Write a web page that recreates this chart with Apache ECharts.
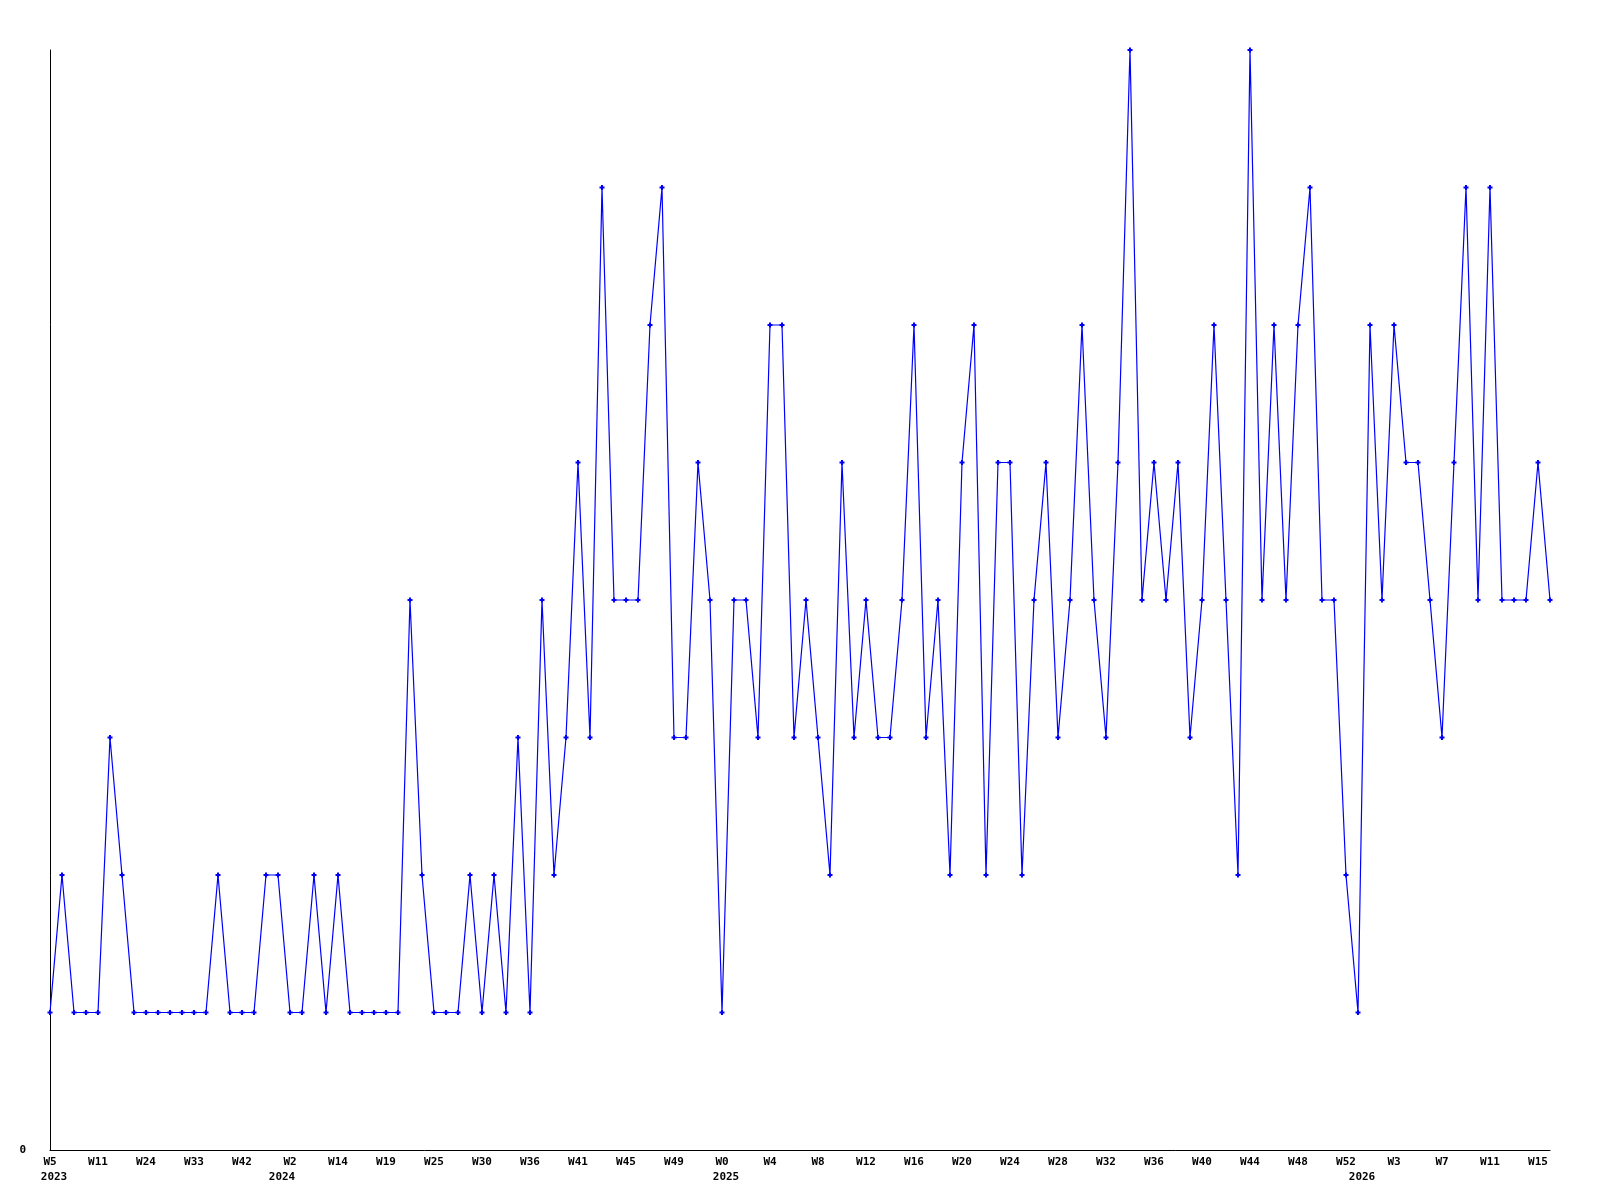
<!DOCTYPE html>
<html><head><meta charset="utf-8">
<script src="https://cdn.jsdelivr.net/npm/echarts@6/dist/echarts.min.js"></script>
<style>html,body{margin:0;padding:0;background:#fff}#c{width:1600px;height:1200px}</style>
</head><body><div id="c"></div>
<script>
// week number of each point
const weeks = [
  5, 6, 8, 9, 11, 14, 17, 21, 24, 26, 28, 31, 33, 35, 37, 40, 42, 45, 49,
  1, 2, 5, 8, 11, 14, 15, 16, 18, 19, 21, 22, 24, 25, 26, 28, 29, 30, 32, 33, 35, 36, 37, 38, 40,
  41, 42, 43, 44, 45, 46, 47, 48, 49, 50, 51, 52,
  0, 1, 2, 3, 4, 5, 6, 7, 8, 9, 10, 11, 12, 13, 14, 15, 16, 17, 18, 19, 20, 21, 22, 23, 24, 25,
  26, 27, 28, 29, 30, 31, 32, 33, 34, 35, 36, 37, 38, 39, 40, 41, 42, 43, 44, 45, 46, 47, 48, 49, 50, 51, 52,
  0, 1, 2, 3, 4, 5, 6, 7, 8, 9, 10, 11, 12, 13, 14, 15, 16
];
// year of each point
const years = [].concat(
  Array(19).fill(2023),
  Array(37).fill(2024),
  Array(53).fill(2025),
  Array(17).fill(2026)
);
// values
const values = [
  1, 2, 1, 1, 1, 3, 2, 1, 1, 1, 1, 1, 1, 1, 2, 1, 1, 1, 2, 2,
  1, 1, 2, 1, 2, 1, 1, 1, 1, 1, 4, 2, 1, 1, 1, 2, 1, 2, 1, 3,
  1, 4, 2, 3, 5, 3, 7, 4, 4, 4, 6, 7, 3, 3, 5, 4, 1, 4, 4, 3,
  6, 6, 3, 4, 3, 2, 5, 3, 4, 3, 3, 4, 6, 3, 4, 2, 5, 6, 2, 5,
  5, 2, 4, 5, 3, 4, 6, 4, 3, 5, 8, 4, 5, 4, 5, 3, 4, 6, 4, 2,
  8, 4, 6, 4, 6, 7, 4, 4, 2, 1, 6, 4, 6, 5, 5, 4, 3, 5, 7, 4,
  7, 4, 4, 4, 5, 4
];

const categories = weeks.map((w, i) => years[i] + '-W' + w);
const firstOfYear = new Set();
years.forEach((y, i) => { if (i === 0 || years[i - 1] !== y) firstOfYear.add(i); });

const labelFont = { fontFamily: 'DejaVu Sans Mono', fontWeight: 'bold', fontSize: 11, color: '#000' };

const chart = echarts.init(document.getElementById('c'), null, { renderer: 'canvas' });
chart.setOption({
  animation: false,
  backgroundColor: '#fff',
  grid: { left: 50, right: 50, top: 50, bottom: 50, containLabel: false },
  xAxis: [
    {
      type: 'category', data: categories, boundaryGap: false,
      axisLine: { show: true, lineStyle: { color: '#000', width: 1 } },
      axisTick: { show: false },
      splitLine: { show: false },
      axisLabel: Object.assign({
        interval: 3, margin: 7,
        formatter: v => v.split('-')[1]
      }, labelFont)
    },
    {
      type: 'category', data: categories, boundaryGap: false, position: 'bottom',
      axisLine: { show: false }, axisTick: { show: false }, splitLine: { show: false },
      axisLabel: Object.assign({
        interval: (idx) => firstOfYear.has(idx), margin: 22,
        formatter: v => v.split('-')[0],
        padding: [0, 0, 0, 8]
      }, labelFont)
    }
  ],
  yAxis: {
    type: 'value', min: 0, max: 8, interval: 8,
    axisLine: { show: true, lineStyle: { color: '#000', width: 1 } },
    axisTick: { show: false },
    splitLine: { show: false },
    axisLabel: Object.assign({ margin: 24, formatter: v => (v === 0 ? '0' : '') }, labelFont)
  },
  series: [{
    type: 'line', xAxisIndex: 0, data: values,
    symbol: 'path://M1.5,0H3.5V1.5H5V3.5H3.5V5H1.5V3.5H0V1.5H1.5Z', symbolSize: 5,
    showAllSymbol: true,
    lineStyle: { color: '#0000ff', width: 1.2 },
    itemStyle: { color: '#0000ff' }
  }]
});
</script>
</body></html>
